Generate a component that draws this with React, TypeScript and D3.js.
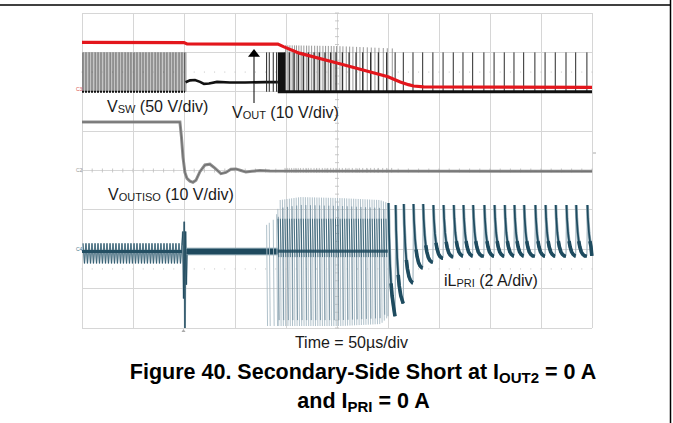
import React from "react";
import * as d3 from "d3";

const WIDTH = 673;
const HEIGHT = 423;

// ---------------- scope grid ----------------
const timeDivisions = [0, 50, 100, 150, 200, 250, 300, 350, 400, 450, 500]; // µs, 50 µs/div
const screenDivisions = [-4, -3, -2, -1, 0, 1, 2, 3, 4];

// channel zero (in divisions) and units per division
const chVsw = { zero: 2, perDiv: 50 };
const chVout = { zero: 2, perDiv: 10 };
const chViso = { zero: 0, perDiv: 10 };
const chIl = { zero: -2, perDiv: 2 };

// ---------------- V_SW (50 V/div) ----------------
const vswEarlyPulses = [1.0, 3.9, 6.9, 9.8, 12.8, 15.7, 18.6, 21.6, 24.5, 27.5, 30.4, 33.3, 36.3, 39.2, 42.2, 45.1, 48.0, 51.0, 53.9, 56.9, 59.8, 62.7, 65.7, 68.6, 71.6, 74.5, 77.4, 80.4, 83.3, 86.3, 89.2, 92.1, 95.1, 98.0, 100.8];
const vswPulseHigh = 50;
const vswClampT = [101.5, 105.9, 110.8, 115.7, 119.6, 124.5, 132.4, 145, 159.8, 179.4, 192];
const vswClampV = [12.0, 14.5, 14.9, 12.5, 10.0, 10.5, 12.5, 11.8, 11.7, 12.2, 12.2];
const vswIsolatedPulses = [181, 183.6, 187.5, 190.8];
const vswBlockT = [192, 199];
const vswBurstPulses = [199, 201.2, 203.2, 205.5, 207.8, 209.7, 212, 214.3, 216.9, 219.6, 221.9, 224.5, 227.5, 230.1, 232.6, 235.6, 238.2, 240.9, 243.8, 246.4, 249, 252.3, 255.2, 258.5, 261.8, 265, 268.6, 271.9, 275.2, 279.1, 283, 286.6, 290.5, 294.8, 298.7, 303.6];
const vswBurstPeakT = [199, 250, 304];
const vswBurstPeakV = [59, 58, 55];
// late switching events (shared by V_SW and iL_PRI)
const switchTimes = [300, 307, 315, 324.5, 334, 344, 354, 364, 373.5, 383, 394, 404, 414, 423.5, 433, 444, 454, 464, 474.5, 484, 495];

// ---------------- V_OUT (10 V/div) ----------------
const voutT = [0, 100, 103, 192, 198, 213, 250, 300, 312, 320, 325, 335, 345, 500];
const voutV = [12.55, 12.5, 12.15, 12.1, 11.4, 9.8, 7.3, 3.8, 2.5, 1.8, 1.45, 1.25, 1.2, 1.1];

// ---------------- V_OUTISO (10 V/div) ----------------
const visoT = [0, 96.0, 97.5, 99.0, 100.9, 102.9, 105.8, 108.8, 111.7, 115.6, 120.5, 125.4, 130.3, 136.2, 141.1, 146, 150.9, 155.8, 160.7, 166.6, 174.4, 184.2, 500];
const visoV = [12.3, 12.3, 8.5, 3.4, -0.5, -2.0, -2.7, -3.0, -2.5, -0.3, 1.4, 1.6, 0.6, -0.8, -0.5, 0.3, 0.4, 0.0, -0.4, -0.2, 0.0, -0.1, -0.2];

// ---------------- iL_PRI (2 A/div) ----------------
const ilLeftLevels = [0.3, -0.72];
const ilPlateauA = -0.12;
const ilLeftBandT = [0, 98];
const ilPlateauT = [102.5, 192];
const ilFaultT = [98.0, 98.9, 99.6, 100.2, 100.9, 101.6, 102.3, 103.0];
const ilFaultA = [0.2, 0.9, -2.5, 1.4, -4.0, 0.9, -1.8, -0.12];
const ilBurstTimes = [181, 183.6, 187.5, 190.8, 192.0, 194.3, 196.5, 198.8, 201.0, 203.3, 205.5, 207.8, 210.0, 212.3, 214.5, 216.8, 219.0, 221.3, 223.5, 225.8, 228.0, 230.3, 232.5, 234.8, 237.0, 239.3, 241.5, 243.8, 246.0, 248.3, 250.5, 252.8, 255.0, 257.3, 259.5, 261.8, 264.0, 266.3, 268.5, 270.8, 273.0, 275.3, 277.5, 279.8, 282.0, 284.3, 286.5, 288.8, 291.0, 293.3, 295.5, 297.8];
const ilBurstEnvT = [180, 190, 194, 214, 253, 292, 300];
const ilBurstTopA = [1.2, 1.6, 2.5, 2.65, 2.6, 2.5, 2.35];
const ilBurstBotA = [-3.9, -3.9, -3.9, -3.9, -3.9, -3.8, -3.4];
const ilBurstInnerA = [1.55, -0.4];
const ilSpikePeakA = [2.35, 2.25, 2.3, 2.3, 2.3, 2.25, 2.25, 2.25, 2.25, 2.25, 2.25, 2.25, 2.25, 2.25, 2.25, 2.25, 2.25, 2.25, 2.25, 2.25, 2.25];
const ilSpikeFloorA = [-3.4, -2.75, -1.7, -0.95, -0.65, -0.45, -0.38, -0.34, -0.34, -0.34, -0.34, -0.34, -0.34, -0.34, -0.34, -0.34, -0.34, -0.34, -0.34, -0.34, -0.34];
const spikeShapeDt = [0.5, 1, 2, 3, 4, 5.5, 7, 9];
const spikeShapeFrac = [1, 0.74, 0.46, 0.29, 0.18, 0.08, 0.03, 0];

const FONT = "'Liberation Sans', Arial, Helvetica, sans-serif";

type Pt = [number, number];

export default function App() {
  const x = d3.scaleLinear().domain([0, 500]).range([82, 592]);
  const yDiv = d3.scaleLinear().domain([-4, 4]).range([328, 13]);
  const yCh = (ch: { zero: number; perDiv: number }) => (v: number) => yDiv(ch.zero + v / ch.perDiv);
  const ySw = yCh(chVsw);
  const yOut = yCh(chVout);
  const yIso = yCh(chViso);
  const yIl = yCh(chIl);
  const mk = (ys: (v: number) => number) => d3.line<Pt>().x((d) => x(d[0])).y((d) => ys(d[1]));
  const lSw = mk(ySw);
  const lOut = mk(yOut);
  const lIso = mk(yIso);
  const lIl = mk(yIl);

  // V_SW paths
  const earlyRise = vswEarlyPulses.map((t) => lSw([[t, 0], [t, vswPulseHigh]])).join("");
  const earlyFall = vswEarlyPulses.map((t) => lSw([[t + 1.3, 0], [t + 1.3, vswPulseHigh]])).join("");
  const clampPath = lSw(vswClampT.map((t, i) => [t, vswClampV[i]] as Pt));
  const isolatedPath = vswIsolatedPulses.map((t) => lSw([[t, 0], [t, vswPulseHigh]])).join("");
  const peakScale = d3.scaleLinear().domain(vswBurstPeakT).range(vswBurstPeakV).clamp(true);
  const burstGrayPath = vswBurstPulses.map((t) => lSw([[t + 0.6, 0], [t + 0.6, peakScale(t)]])).join("");
  const burstBlackPath = vswBurstPulses
    .filter((_, i) => i % 2 === 0)
    .map((t) => lSw([[t, 0], [t, vswPulseHigh]]))
    .join("");
  const rightPulsePath = switchTimes.slice(1).map((t) => lSw([[t, 0], [t, vswPulseHigh]])).join("");

  // V_OUT
  const voutPath = lOut(voutT.map((t, i) => [t, voutV[i]] as Pt));
  // V_OUTISO
  const visoPath = lIso(visoT.map((t, i) => [t, visoV[i]] as Pt));
  const visoNoise = vswBurstPulses.map((t) => lIso([[t, -0.55], [t, 0.65]])).join("");

  // iL paths
  const ilLeftPath = lIl(
    vswEarlyPulses.flatMap((t) => [[t, ilLeftLevels[0]], [t + 1.45, ilLeftLevels[1]]] as Pt[])
  );
  const ilLeftBand = lIl(ilLeftBandT.map((t) => [t, ilPlateauA] as Pt));
  const ilFaultPath = lIl(ilFaultT.map((t, i) => [t, ilFaultA[i]] as Pt));
  const ilPlateauPath = lIl(ilPlateauT.map((t) => [t, ilPlateauA] as Pt));
  const topS = d3.scaleLinear().domain(ilBurstEnvT).range(ilBurstTopA).clamp(true);
  const botS = d3.scaleLinear().domain(ilBurstEnvT).range(ilBurstBotA).clamp(true);
  const burstLight = ilBurstTimes.map((t) => lIl([[t, topS(t)], [t + 0.9, botS(t)]])).join("");
  const burstDark = ilBurstTimes
    .filter((t) => t >= 192)
    .map((t) => lIl([[t + 0.2, ilBurstInnerA[0]], [t + 1.0, ilBurstInnerA[1]]]))
    .join("");
  const burstDeep = ilBurstTimes
    .filter((t, i) => t >= 192 && i % 2 === 0)
    .map((t) => lIl([[t + 0.5, topS(t) - 0.4], [t + 1.3, botS(t) + 0.3]]))
    .join("");
  const burstBand = lIl([[192, -0.1], [300, -0.1]]);

  // decaying current spikes after the burst
  const risePaths: string[] = [];
  const decayPaths: string[] = [];
  const troughPaths: string[] = [];
  let prev = -3.4;
  switchTimes.forEach((p, i) => {
    const next = i + 1 < switchTimes.length ? switchTimes[i + 1] : 500;
    const pk = ilSpikePeakA[i];
    const fl = ilSpikeFloorA[i];
    risePaths.push(lIl([[p, prev], [p + 0.5, pk]]) || "");
    const pts: Pt[] = [];
    const trough: Pt[] = [];
    spikeShapeDt.forEach((dt, k) => {
      const t = p + dt;
      if (t < next - 0.15 && t <= 500) {
        const v = fl + (pk - fl) * spikeShapeFrac[k];
        pts.push([t, v]);
        if (dt >= 3) trough.push([t, v]);
      }
    });
    const endT = Math.min(next - 0.15, 500);
    pts.push([endT, fl]);
    trough.push([endT, fl]);
    prev = fl;
    decayPaths.push(lIl(pts) || "");
    troughPaths.push(lIl(trough) || "");
  });

  const gridColor = "#d6d6d6";
  const y0 = yDiv(0);
  const xc = x(250);

  return (
    <svg
      width={WIDTH}
      height={HEIGHT}
      viewBox={`0 0 ${WIDTH} ${HEIGHT}`}
      style={{ position: "absolute", left: 0, top: 0, background: "#fff" }}
      fontFamily={FONT}
    >
      <rect x={0} y={0} width={WIDTH} height={HEIGHT} fill="#fff" />
      {/* frame */}
      <line x1={0} x2={671} y1={5} y2={5} stroke="#000" strokeWidth={1.5} />
      <line x1={670.5} x2={670.5} y1={0} y2={HEIGHT} stroke="#000" strokeWidth={1.5} />

      {/* grid */}
      <g stroke={gridColor} strokeWidth={1} shapeRendering="crispEdges">
        {timeDivisions.map((t) => (
          <line key={"v" + t} x1={x(t)} x2={x(t)} y1={yDiv(4)} y2={yDiv(-4)} />
        ))}
        {screenDivisions.map((d) => (
          <line key={"h" + d} x1={x(0)} x2={x(500)} y1={yDiv(d)} y2={yDiv(d)} />
        ))}
      </g>
      <g stroke="#bdbdbd" strokeWidth={0.8}>
        {d3.range(0, 501, 10).map((t) => (
          <line key={"ht" + t} x1={x(t)} x2={x(t)} y1={y0 - 2} y2={y0 + 2} />
        ))}
        {d3.range(-4, 4.01, 0.2).map((d) => (
          <line key={"vt" + d.toFixed(1)} x1={xc - 2} x2={xc + 2} y1={yDiv(d)} y2={yDiv(d)} />
        ))}
      </g>
      <g fill="#c4c4c4">
        {d3.range(0, 501, 10).map((t) => (
          <React.Fragment key={"dot" + t}>
            <rect x={x(t) - 0.5} y={yDiv(2.5) - 0.5} width={1} height={1} />
            <rect x={x(t) - 0.5} y={yDiv(-2.5) - 0.5} width={1} height={1} />
          </React.Fragment>
        ))}
      </g>

      {/* V_SW */}
      <rect x={x(199)} y={ySw(vswPulseHigh)} width={x(250) - x(199)} height={ySw(0) - ySw(vswPulseHigh)} fill="#cfcfcf" opacity={0.4} />
      <path d={earlyFall} fill="none" stroke="#9a9a9a" strokeWidth={0.7} />
      <path d={earlyRise} fill="none" stroke="#1a1a1a" strokeWidth={0.9} />
      <path d={lSw([[0, 0], [101, 0]])} fill="none" stroke="#111" strokeWidth={2.2} strokeDasharray="2 1" />
      <path d={clampPath || ""} fill="none" stroke="#111" strokeWidth={2.6} />
      <path d={isolatedPath} fill="none" stroke="#222" strokeWidth={1} />
      <rect x={x(vswBlockT[0])} y={ySw(vswPulseHigh)} width={x(vswBlockT[1]) - x(vswBlockT[0])} height={ySw(0) - ySw(vswPulseHigh)} fill="#111" />
      <path d={burstGrayPath} fill="none" stroke="#8d8d8d" strokeWidth={0.9} />
      <path d={burstBlackPath} fill="none" stroke="#111" strokeWidth={1} />
      <path d={rightPulsePath} fill="none" stroke="#2a2a2a" strokeWidth={1} />
      <path d={lSw([[192, 0], [500, 0]])} fill="none" stroke="#111" strokeWidth={3} />

      {/* V_OUT */}
      <path d={voutPath || ""} fill="none" stroke="#e3161c" strokeWidth={3.2} />

      {/* V_OUTISO */}
      <path d={visoNoise} fill="none" stroke="#b0b0b0" strokeWidth={0.8} />
      <path d={visoPath || ""} fill="none" stroke="#8f8f8f" strokeWidth={3} />
      <path d={visoPath || ""} fill="none" stroke="#6c6c6c" strokeWidth={1} />

      {/* iL_PRI */}
      <path d={ilLeftPath || ""} fill="none" stroke="#9db2bd" strokeWidth={1.4} />
      <path d={ilLeftPath || ""} fill="none" stroke="#2a566a" strokeWidth={0.7} />
      <path d={ilLeftBand || ""} fill="none" stroke="#244f63" strokeWidth={3} />
      <path d={ilFaultPath || ""} fill="none" stroke="#a3b6c0" strokeWidth={2} />
      <path d={ilFaultPath || ""} fill="none" stroke="#1f4a5e" strokeWidth={0.9} />
      <path d={ilPlateauPath || ""} fill="none" stroke="#6f8e9c" strokeWidth={7.5} />
      <path d={ilPlateauPath || ""} fill="none" stroke="#1f4a5e" strokeWidth={5} />
      <path d={burstLight} fill="none" stroke="#a7bac4" strokeWidth={0.9} />
      <path d={burstDeep} fill="none" stroke="#56778a" strokeWidth={0.8} opacity={0.85} />
      <path d={burstDark} fill="none" stroke="#2b586c" strokeWidth={1} opacity={0.8} />
      <path d={burstBand || ""} fill="none" stroke="#1f4a5e" strokeWidth={3} opacity={0.85} />
      <path d={risePaths.join("")} fill="none" stroke="#9fb3be" strokeWidth={1.1} />
      <path d={decayPaths.join("")} fill="none" stroke="#94abb7" strokeWidth={3} strokeLinejoin="round" />
      <path d={decayPaths.join("")} fill="none" stroke="#1e4b5f" strokeWidth={1.7} strokeLinejoin="round" />
      <path d={troughPaths.join("")} fill="none" stroke="#1e4b5f" strokeWidth={3.6} strokeLinejoin="round" />

      {/* arrow */}
      <line x1={254} x2={254} y1={56} y2={103} stroke="#000" strokeWidth={1} />
      <path d="M254,49 L248,56.8 L260,56.8 Z" fill="#000" />

      {/* channel markers */}
      <g fontSize={5} fontFamily={FONT}>
        <text x={76} y={91} fill="#d9534f">C3</text>
        <text x={76} y={172} fill="#9a9a9a">C2</text>
        <text x={76} y={251} fill="#4a7a8e">C4</text>
      </g>
      <path d={`M${x(99.5) - 2},${332} L${x(99.5) + 2},${332} L${x(99.5)},${329} Z`} fill="#aaa" />
      <line x1={593} x2={596} y1={153} y2={153} stroke="#aaa" strokeWidth={1} />

      {/* labels */}
      <g fontSize={16} fill="#1a1a1a">
        <text x={107} y={112}>
          V<tspan fontSize={11} dy={1}>SW</tspan>
          <tspan dy={-1}> (50 V/div)</tspan>
        </text>
        <text x={232} y={118}>
          V<tspan fontSize={11} dy={1}>OUT</tspan>
          <tspan dy={-1}> (10 V/div)</tspan>
        </text>
        <text x={108} y={200}>
          V<tspan fontSize={11} dy={1}>OUTISO</tspan>
          <tspan dy={-1}> (10 V/div)</tspan>
        </text>
        <text x={444} y={286}>
          iL<tspan fontSize={11} dy={1}>PRI</tspan>
          <tspan dy={-1}> (2 A/div)</tspan>
        </text>
        <text x={351.5} y={348} textAnchor="middle">Time = 50µs/div</text>
      </g>
      <g fontSize={21.5} fontWeight="bold" fill="#000">
        <text x={363} y={379} textAnchor="middle">
          Figure 40. Secondary-Side Short at I<tspan fontSize={15} dy={4}>OUT2</tspan>
          <tspan dy={-4}> = 0 A</tspan>
        </text>
        <text x={363.5} y={408} textAnchor="middle">
          and I<tspan fontSize={15} dy={4}>PRI</tspan>
          <tspan dy={-4}> = 0 A</tspan>
        </text>
      </g>
    </svg>
  );
}
